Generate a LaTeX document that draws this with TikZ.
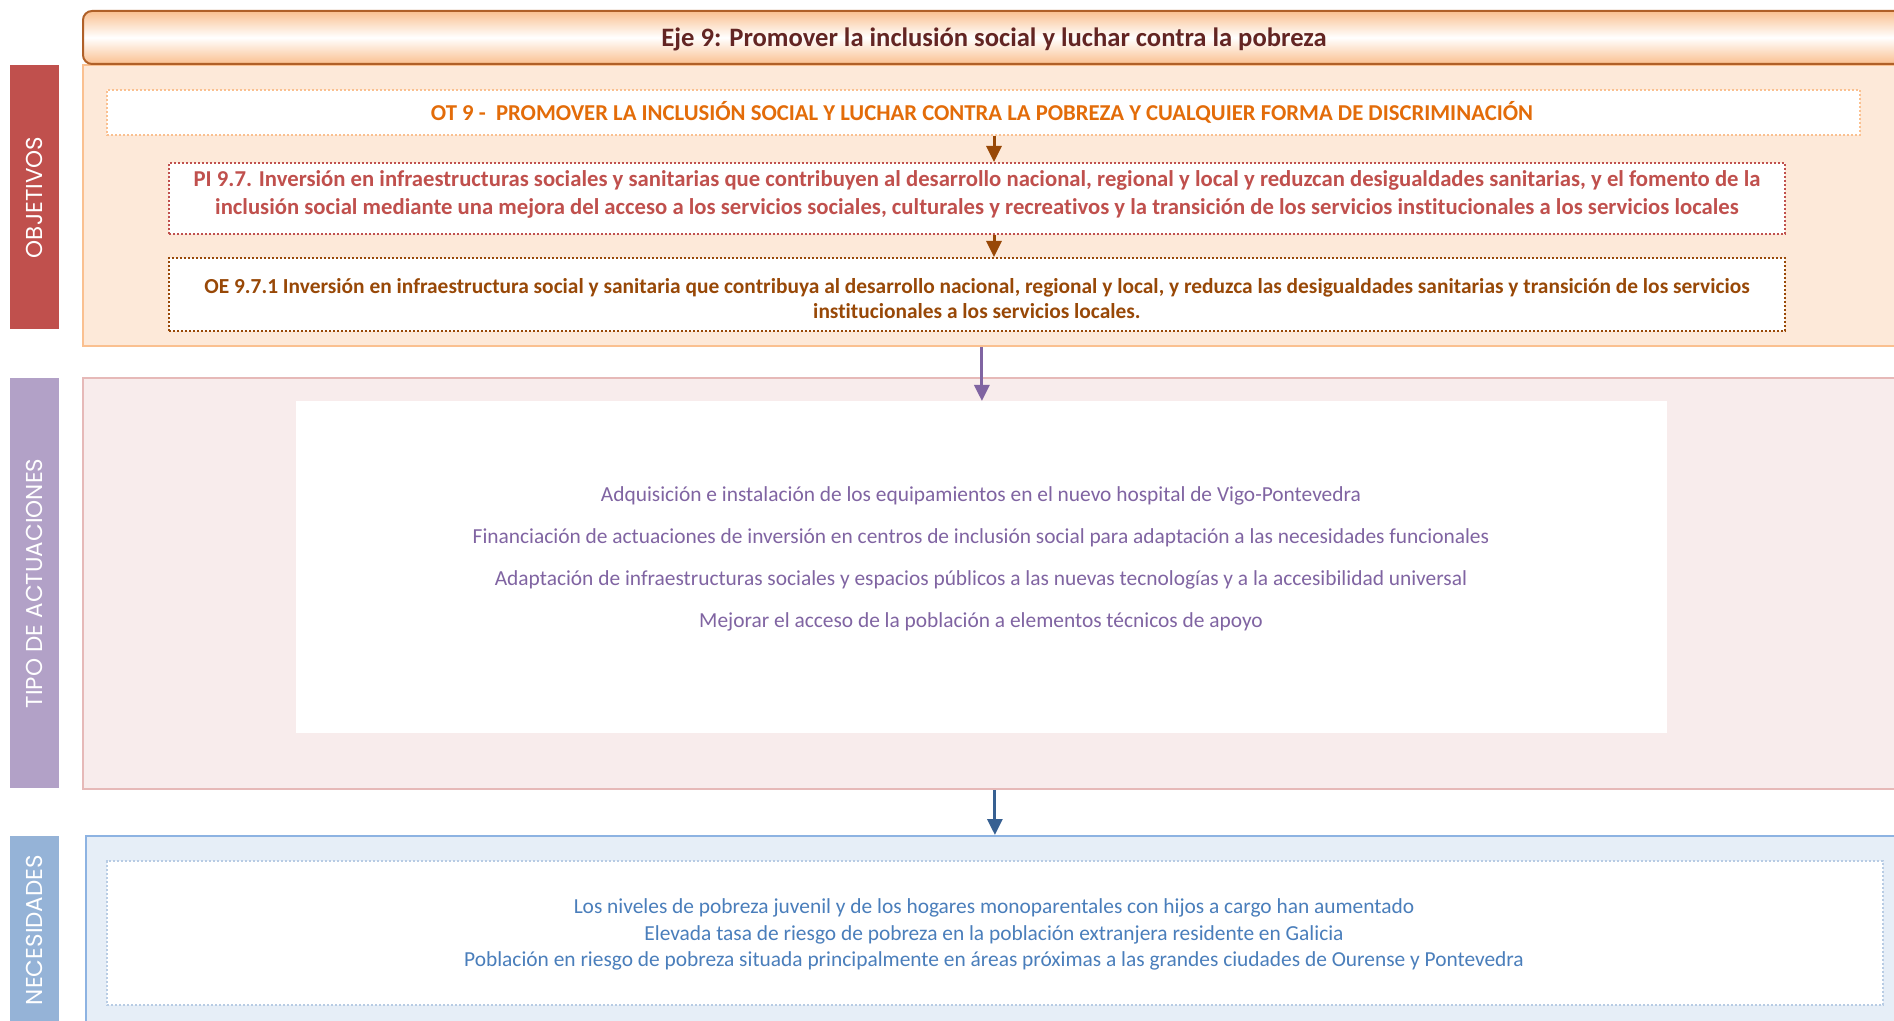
\documentclass[tikz,border=0pt]{standalone}
\usepackage{fontspec}
\setmainfont{Carlito}[Ligatures=NoCommon]
\newfontfamily\sidefont{Poppins}
\usepackage{tikz}
\usetikzlibrary{positioning,arrows.meta,calc}
\definecolor{ejeorange}{RGB}{250,192,144}
\definecolor{ejeborder}{RGB}{176,96,40}
\definecolor{ejetitle}{RGB}{99,37,35}
\definecolor{objfill}{RGB}{253,233,217}
\definecolor{objred}{RGB}{192,80,77}
\definecolor{otorange}{RGB}{227,108,9}
\definecolor{oebrown}{RGB}{152,72,7}
\definecolor{actfill}{RGB}{248,236,236}
\definecolor{actborder}{RGB}{230,185,184}
\definecolor{actbar}{RGB}{178,161,199}
\definecolor{actpurple}{RGB}{128,100,162}
\definecolor{necfill}{RGB}{230,238,247}
\definecolor{necborder}{RGB}{141,179,226}
\definecolor{necbar}{RGB}{149,179,215}
\definecolor{necdots}{RGB}{184,204,228}
\definecolor{necblue}{RGB}{74,126,187}
\definecolor{arrowblue}{RGB}{55,96,146}

\begin{document}
\begin{tikzpicture}[x=0.5pt,y=-0.5pt,
    panel/.style={rectangle,anchor=north west,line width=1pt,inner sep=0pt,minimum width=916.5pt},
    sidebar/.style={rectangle,anchor=north west,inner sep=0pt,minimum width=24.5pt},
    sidelabel/.style={rotate=90,text=white,font=\sidefont\fontsize{11.5}{13}\selectfont},
    dotbox/.style={rectangle,anchor=north west,fill=white,line width=0.9pt,dash pattern=on 0.9pt off 1.1pt,inner sep=0pt},
    boldtext/.style={align=center,font=\bfseries\fontsize{11.35}{14}\selectfont},
    plaintext/.style={align=center,font=\fontsize{10.7}{21}\selectfont},
    arr/.style={-{Triangle[length=8pt,width=7.5pt]},line width=1.5pt}
]
    \clip (0,0) rectangle (1894,1021);

    \node[panel,draw=ejeorange,fill=objfill,minimum height=140.5pt] (objpanel) at (82,64) {};
    \node[panel,draw=ejeborder,rounded corners=4.5pt,top color=ejeorange,bottom color=ejeorange,middle color=white,minimum height=26.5pt] (header) at (82,10) {};
    \node[font=\bfseries\fontsize{13.3}{15}\selectfont,text=ejetitle] (title) at (994,39.5) {Eje 9: Promover la inclusión social y luchar contra la pobreza};

    \node[sidebar,fill=objred,minimum height=132pt] (objbar) at (10,65) {};
    \node[sidelabel] (objlabel) at (objbar.center) {OBJETIVOS};

    \node[dotbox,draw=ejeorange,minimum width=876.5pt,minimum height=22.5pt] (ot9) at (106,89) {};
    \node[boldtext,text=otorange] (ot9text) at (982,112.5) {OT 9 -\ \ PROMOVER LA INCLUSIÓN SOCIAL Y LUCHAR CONTRA LA POBREZA Y CUALQUIER FORMA DE DISCRIMINACIÓN};

    \node[dotbox,draw=objred,minimum width=808pt,minimum height=35.5pt] (pi) at (168,162) {};
    \node[boldtext,text=objred] (pitext) at ($(pi.center)+(0,-4)$) {PI 9.7. Inversión en infraestructuras sociales y sanitarias que contribuyen al desarrollo nacional, regional y local y reduzcan desigualdades sanitarias, y el fomento de la\\inclusión social mediante una mejora del acceso a los servicios sociales, culturales y recreativos y la transición de los servicios institucionales a los servicios locales};

    \node[dotbox,draw=oebrown,minimum width=808pt,minimum height=36.5pt] (oe) at (168,257) {};
    \node[boldtext,text=oebrown,font=\bfseries\fontsize{10.7}{12.7}\selectfont] (oetext) at ($(oe.center)+(0,4)$) {OE 9.7.1 Inversión en infraestructura social y sanitaria que contribuya al desarrollo nacional, regional y local, y reduzca las desigualdades sanitarias y transición de los servicios\\institucionales a los servicios locales.};

    \draw[arr,oebrown] (ot9.south -| title.south) -- (pi.north -| title.south);
    \draw[arr,oebrown] (pi.south -| title.south) -- (oe.north -| title.south);

    \node[panel,draw=actborder,fill=actfill,minimum height=205.5pt] (actpanel) at (82,377) {};
    \node[sidebar,fill=actbar,minimum height=205pt] (actbar) at (10,378) {};
    \node[sidelabel] (actlabel) at (actbar.center) {TIPO DE ACTUACIONES};
    \node[rectangle,anchor=north west,fill=white,inner sep=0pt,minimum width=685.5pt,minimum height=166pt] (acts) at (296,401) {};
    \node[plaintext,text=actpurple] (actstext) at (981,559) {Adquisición e instalación de los equipamientos en el nuevo hospital de Vigo-Pontevedra\\Financiación de actuaciones de inversión en centros de inclusión social para adaptación a las necesidades funcionales\\Adaptación de infraestructuras sociales y espacios públicos a las nuevas tecnologías y a la accesibilidad universal\\Mejorar el acceso de la población a elementos técnicos de apoyo};

    \draw[arr,actpurple] (objpanel.south -| acts.north) -- (acts.north);

    \node[panel,draw=necborder,fill=necfill,minimum height=100pt] (necpanel) at (85,835) {};
    \node[sidebar,fill=necbar,minimum height=100pt] (necbar) at (10,836) {};
    \node[sidelabel] (neclabel) at (34.5,930) {NECESIDADES};
    \node[dotbox,draw=necdots,minimum width=888pt,minimum height=72pt] (needs) at (106,860) {};
    \node[align=center,font=\fontsize{10.7}{13.2}\selectfont,text=necblue] (needstext) at (994,934.5) {Los niveles de pobreza juvenil y de los hogares monoparentales con hijos a cargo han aumentado\\Elevada tasa de riesgo de pobreza en la población extranjera residente en Galicia\\Población en riesgo de pobreza situada principalmente en áreas próximas a las grandes ciudades de Ourense y Pontevedra};

    \draw[arr,arrowblue] (actpanel.south -| needs.north) -- (necpanel.north -| needs.north);
\end{tikzpicture}
\end{document}
